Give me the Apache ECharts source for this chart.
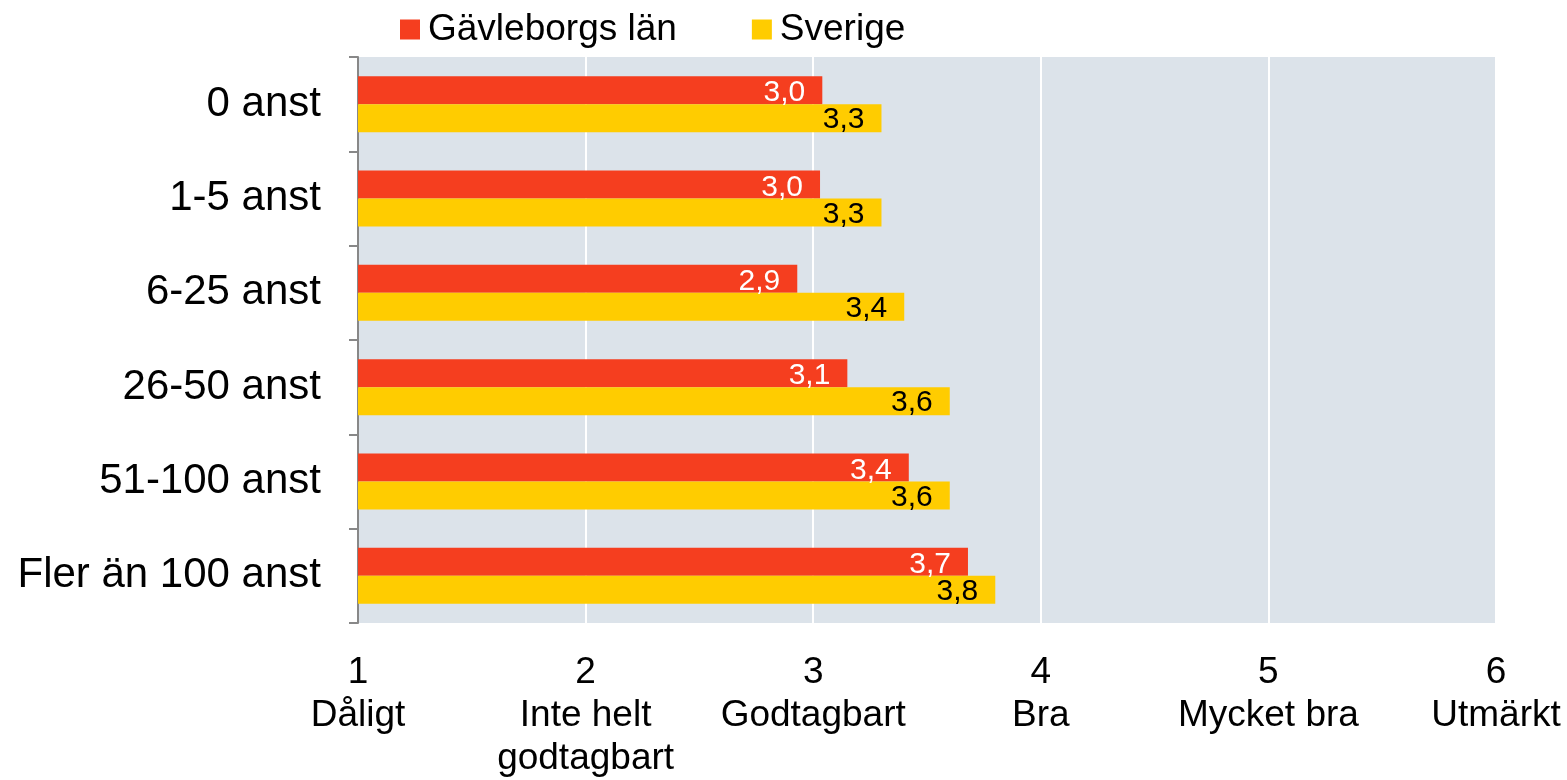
<!DOCTYPE html>
<html>
<head>
<meta charset="utf-8">
<script src="https://cdn.jsdelivr.net/npm/echarts@6/dist/echarts.min.js"></script>
<style>
    html, body { margin: 0; padding: 0; background: #fff; }
    #chart { width: 1567px; height: 780px; }
</style>
</head>
<body>
<div id="chart"></div>
<script>
    var categories = ['0 anst', '1-5 anst', '6-25 anst', '26-50 anst', '51-100 anst', 'Fler än 100 anst'];
    var gavleborg = [3.04, 3.03, 2.93, 3.15, 3.42, 3.68];
    var sverige = [3.30, 3.30, 3.40, 3.60, 3.60, 3.80];
    var xLabels = {
        1: '1\nDåligt',
        2: '2\nInte helt\ngodtagbart',
        3: '3\nGodtagbart',
        4: '4\nBra',
        5: '5\nMycket bra',
        6: '6\nUtmärkt'
    };

    var font = 'Liberation Sans, Arial, sans-serif';
    function fmt(p) {
        return p.value.toFixed(1).replace('.', ',');
    }

    var myChart = echarts.init(document.getElementById('chart'));
    var option = {
        animation: false,
        textStyle: { fontFamily: font },
        legend: {
            top: 6,
            left: 395,
            itemWidth: 20,
            itemHeight: 20,
            itemGap: 75,
            icon: 'rect',
            textStyle: { fontSize: 37, color: '#000', fontFamily: font, padding: [0, 0, 0, 3] },
            data: ['Gävleborgs län', 'Sverige']
        },
        grid: {
            left: 358,
            right: 71,
            top: 57,
            bottom: 153,
            show: true,
            backgroundColor: '#DCE3EA',
            borderWidth: 0
        },
        xAxis: {
            type: 'value',
            min: 1,
            max: 6,
            interval: 1,
            axisLine: { show: false },
            axisTick: { show: false },
            splitLine: { lineStyle: { color: '#fff', width: 2 } },
            axisLabel: {
                margin: 28,
                fontSize: 37,
                lineHeight: 43,
                color: '#000',
                fontFamily: font,
                formatter: function (v) { return xLabels[v] || ''; }
            }
        },
        yAxis: {
            type: 'category',
            inverse: true,
            data: categories,
            axisLine: { show: true, lineStyle: { color: '#888', width: 2 } },
            axisTick: { show: true, length: 9, lineStyle: { color: '#888', width: 2 } },
            axisLabel: {
                margin: 37,
                fontSize: 42,
                color: '#000',
                fontFamily: font
            }
        },
        series: [
            {
                name: 'Gävleborgs län',
                type: 'bar',
                data: gavleborg,
                barWidth: 28,
                barGap: 0,
                itemStyle: { color: '#F53E1F' },
                label: {
                    show: true,
                    position: 'insideRight',
                    distance: 17,
                    offset: [0, 3],
                    color: '#fff',
                    fontSize: 30,
                    fontFamily: font,
                    formatter: fmt
                }
            },
            {
                name: 'Sverige',
                type: 'bar',
                data: sverige,
                barWidth: 28,
                barGap: 0,
                itemStyle: { color: '#FFCC00' },
                label: {
                    show: true,
                    position: 'insideRight',
                    distance: 17,
                    offset: [0, 2],
                    color: '#000',
                    fontSize: 30,
                    fontFamily: font,
                    formatter: fmt
                }
            }
        ]
    };
    myChart.setOption(option);
</script>
</body>
</html>
